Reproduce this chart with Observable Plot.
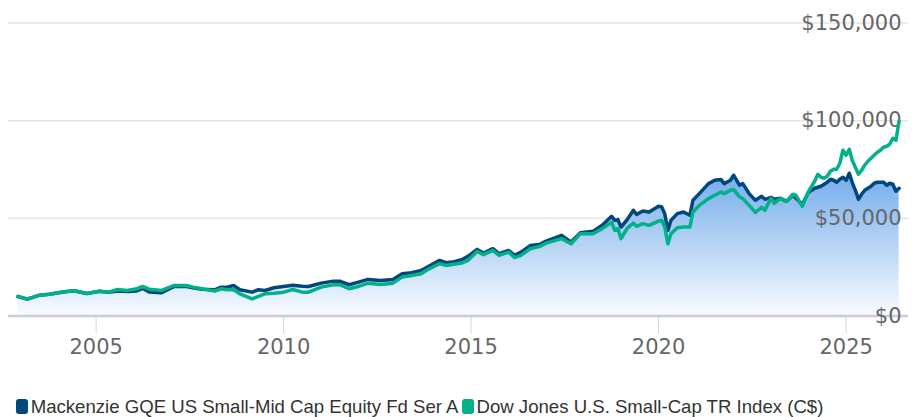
<!DOCTYPE html>
<html><head><meta charset="utf-8">
<script src="https://cdn.jsdelivr.net/npm/d3@7"></script>
<script src="https://cdn.jsdelivr.net/npm/@observablehq/plot@0.6"></script>
<style>
body{margin:0;background:#fff;}
#wrap{position:relative;width:918px;height:417px;overflow:hidden;}
#legend{position:absolute;left:15.7px;top:397px;display:flex;align-items:center;font-family:"Liberation Sans",Arial,sans-serif;font-size:18.6px;line-height:19px;color:#333;white-space:nowrap;}
.item{display:flex;align-items:center;margin-right:3px;}
.sw{display:inline-block;width:12px;height:15px;border-radius:3px;margin-right:3px;}
</style></head><body>
<div id="wrap"><div id="chart"></div><div id="legend"></div></div>
<script>
const months = ["2002-12","2003-03","2003-07","2003-10","2004-03","2004-06","2004-10","2005-02","2005-05","2005-08","2005-11","2006-02","2006-04","2006-06","2006-10",
"2007-02","2007-06","2007-08","2007-11","2008-03","2008-05","2008-07","2008-09","2008-11","2009-03","2009-05","2009-07","2009-10",
"2010-01","2010-04","2010-07","2010-09","2011-01","2011-05","2011-07","2011-10","2012-01","2012-04","2012-08","2012-12",
"2013-03","2013-06","2013-09","2013-11","2014-03","2014-05","2014-07","2014-10","2014-12",
"2015-03","2015-05","2015-08","2015-10","2016-01","2016-03","2016-05","2016-08","2016-11","2017-01","2017-06","2017-09","2017-12",
"2018-04","2018-07","2018-10","2018-11","2018-12","2019-01","2019-03","2019-05","2019-06","2019-08","2019-10",
"2020-01","2020-02","2020-03","2020-04","2020-05","2020-07","2020-09","2020-11","2020-12",
"2021-02","2021-05","2021-07","2021-09","2021-10","2021-12","2022-01","2022-03","2022-04","2022-06","2022-08","2022-10","2022-11",
"2023-01","2023-02","2023-04","2023-06","2023-08","2023-09","2023-11",
"2024-01","2024-03","2024-04","2024-05","2024-06","2024-07","2024-08","2024-09","2024-10","2024-11","2024-12","2025-01","2025-02","2025-03","2025-04","2025-05","2025-06","2025-07","2025-08","2025-09","2025-10","2025-11","2025-12","2026-01","2026-02","2026-03","2026-04","2026-05","2026-06"];

const fundValues = [10000,8620,10670,11180,12410,12920,11540,12720,12210,12820,12560,12820,14100,12310,11900,
15130,15130,14460,13740,13440,14770,14770,15640,13440,12210,13440,13080,14460,
15130,15790,15280,15130,16820,17850,17850,16000,17330,18720,18200,18720,
21640,22150,23330,25030,28460,27280,27590,28820,30510,
34100,32200,34460,31900,33590,31020,32720,36150,36670,38360,41280,37850,42670,
43330,46410,51020,48970,49330,45540,49330,54100,52050,53740,53230,
56150,55790,52410,43840,48970,52410,53230,51540,59230,
62660,67790,69480,69840,67790,69480,72050,66920,67790,62660,59230,61280,59740,
60770,59740,60250,58720,61790,60250,57180,
63330,65380,65900,66410,67430,68460,70000,69480,68460,70000,71020,69480,73100,68460,64360,59740,62310,64360,65380,66410,67950,68460,68460,68460,66920,67950,67430,63840,65380];

const indexValues = [10000,8620,10670,11180,12410,12920,11540,12720,12210,13590,13080,13950,15130,13740,13080,
15640,15640,14770,13950,12720,13950,13440,13440,11380,8820,10000,11380,11690,
12210,13590,12210,12210,14770,16000,16000,13950,15130,16820,16150,16820,
19900,20770,21640,23690,26770,25900,26410,27080,28460,
33080,31380,33590,31020,32720,29850,31020,34460,35640,37330,39590,37020,42150,
42150,44720,47950,43840,44720,39590,44870,47590,45900,47280,46410,
48610,48970,45540,37020,42150,45230,45540,45540,53230,
56660,60100,61790,63490,62660,64360,64720,60920,60100,56660,53080,55640,54100,
60250,57690,60250,58720,62310,61790,56150,
63840,68970,72560,71020,70510,71540,74100,75130,75130,78200,84870,82300,85380,79740,76150,72560,74610,77180,79230,80770,82300,83840,84870,86410,86920,87950,91020,90000,99740];

const seriesNames = ["Mackenzie GQE US Small-Mid Cap Equity Fd Ser A", "Dow Jones U.S. Small-Cap TR Index (C$)"];
const seriesColors = ["#00477e", "#00b189"];
const yTicks = [0, 50000, 100000, 150000];
const xTickYears = [2005, 2010, 2015, 2020, 2025];

const parse = s => new Date(Date.UTC(+s.slice(0, 4), +s.slice(5, 7) - 1, 1));
const fund = months.map((m, i) => ({date: parse(m), value: fundValues[i]}));
const index = months.map((m, i) => ({date: parse(m), value: indexValues[i]}));
const xTicks = xTickYears.map(y => new Date(Date.UTC(y, 0, 1)));

const yTop = 22.5, yBottom = 315.5;
const pxToValue = 150000 / (yBottom - yTop);

const chart = Plot.plot({
  width: 918, height: 392,
  marginLeft: 8, marginRight: 10, marginTop: 0, marginBottom: 0,
  style: {fontFamily: "DejaVu Sans", background: "transparent", overflow: "visible"},
  x: {type: "utc", domain: [parse(months[0]), parse(months[months.length - 1])], range: [17.4, 898.6], axis: null},
  y: {domain: [0, 150000], range: [yBottom, yTop], axis: null},
  marks: [
    Plot.ruleY(yTicks.slice(1), {stroke: "#e4e4e4", strokeWidth: 1.5}),
    Plot.areaY(fund, {x: "date", y: "value", fill: "url(#fundGrad)"}),
    Plot.ruleX(xTicks, {y1: 0, y2: -18 * pxToValue, stroke: "#ccd6eb", strokeWidth: 1}),
    Plot.ruleY([0], {stroke: "#c9cdd9", strokeWidth: 2.5}),
    Plot.text(yTicks, {y: d => d, frameAnchor: "right", dx: -7, text: d => "$" + d3.format(",")(d), textAnchor: "end", fontSize: 21, fill: "#666"}),
    Plot.text(xTicks, {x: d => d, y: 0, dy: 31, text: d => String(d.getUTCFullYear()), fontSize: 21, fill: "#666"}),
    Plot.line(fund, {x: "date", y: "value", stroke: seriesColors[0], strokeWidth: 3.5, strokeLinejoin: "round", strokeLinecap: "round"}),
    Plot.line(index, {x: "date", y: "value", stroke: seriesColors[1], strokeWidth: 3.5, strokeLinejoin: "round", strokeLinecap: "round"})
  ]
});

const ns = "http://www.w3.org/2000/svg";
const defs = document.createElementNS(ns, "defs");
defs.innerHTML = '<linearGradient id="fundGrad" x1="0" y1="0" x2="0" y2="1"><stop offset="0" stop-color="#74acea"/><stop offset="1" stop-color="#f8fbff"/></linearGradient>';
chart.insertBefore(defs, chart.firstChild);
document.getElementById("chart").appendChild(chart);

const legend = document.getElementById("legend");
seriesNames.forEach((name, i) => {
  const item = document.createElement("div");
  item.className = "item";
  const sw = document.createElement("span");
  sw.className = "sw";
  sw.style.background = seriesColors[i];
  const label = document.createElement("span");
  label.textContent = name;
  item.appendChild(sw);
  item.appendChild(label);
  legend.appendChild(item);
});
</script>
</body></html>
